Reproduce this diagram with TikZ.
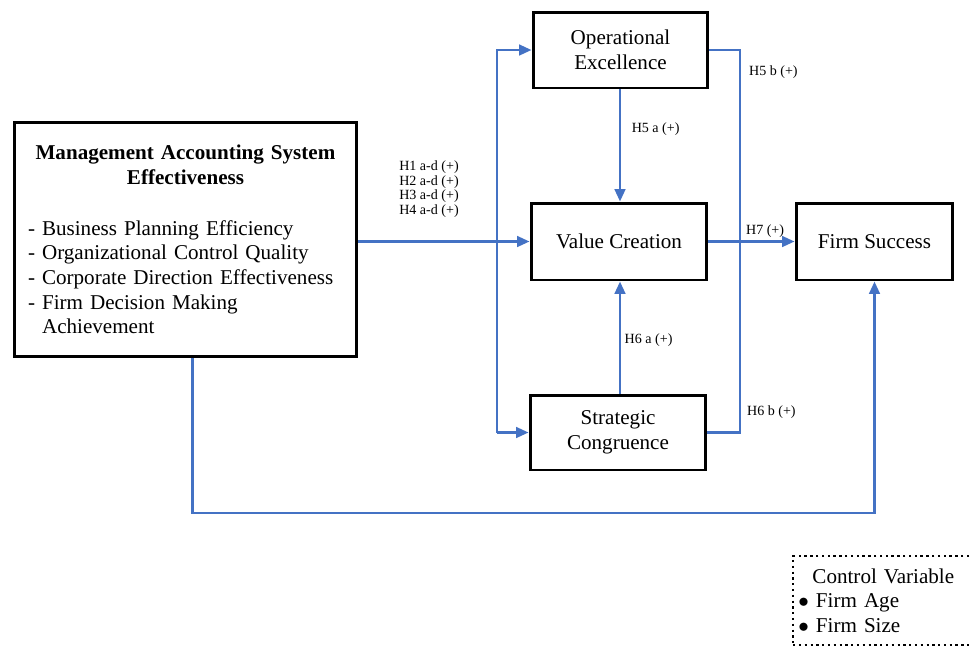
\documentclass[tikz,border=0pt]{standalone}
\usepackage{fontspec}
\setmainfont{Liberation Serif}
\usetikzlibrary{arrows.meta,calc}
\definecolor{linkblue}{RGB}{68,114,196}
\begin{document}
\begin{tikzpicture}[x=0.02cm, y=-0.02cm,
    box/.style={draw, line width=1.7pt, align=center, inner sep=2pt,
      font=\fontsize{12}{14}\selectfont},
    link/.style={draw=linkblue, line width=1.4pt},
    arrowlink/.style={link, -{Triangle[length=7pt,width=6pt,linkblue]}},
    hyp/.style={font=\fontsize{8}{8.4}\selectfont, text=black, inner sep=1pt, align=left}]
    \clip (0,0) rectangle (971,647);
    % boxes
    \node[box, minimum width=6.86cm, minimum height=4.7cm, text width=6.3cm, align=left] (mas) at (185.5,239.5)
      {{\centering\bfseries Management Accounting System\\ Effectiveness\par}\vspace{15pt}
       - Business Planning Efficiency\\
       - Organizational Control Quality\\
       - Corporate Direction Effectiveness\\
       - Firm Decision Making\\
       \phantom{- }Achievement};
    \node[box, minimum width=3.5cm, minimum height=1.52cm] (oe) at (620.5,50) {Operational\\ Excellence};
    \node[box, minimum width=3.52cm, minimum height=1.54cm] (vc) at (619,241.5) {Value Creation};
    \node[box, minimum width=3.52cm, minimum height=1.5cm] (sc) at (618,432.5) {Strategic\\ Congruence};
    \node[box, minimum width=3.14cm, minimum height=1.54cm] (fs) at (874.5,241.5) {Firm Success};
    \node[draw, dotted, line width=1.3pt, anchor=north west, text width=4.2cm, inner xsep=3pt, inner ysep=7pt,
      align=left, font=\fontsize{12}{14}\selectfont] (ctrl) at (792,555)
      {\hspace*{8pt}Control Variable\\ $\bullet$ Firm Age\\ $\bullet$ Firm Size};
    % connectors
    \coordinate (split) at (497,241);
    \coordinate (join) at (740,241);
    \coordinate (low) at (0,513);
    \draw[arrowlink] (mas.east |- vc.west) -- (vc.west);
    \draw[arrowlink] (sc.west -| split) -- (oe.west -| split) -- (oe.west);
    \draw[arrowlink] (sc.west -| split) -- (sc.west);
    \draw[arrowlink] (oe.south -| 620,0) -- (vc.north -| 620,0)
      node[hyp, pos=0.35, right=5pt] (h5a) {H5 a (+)};
    \draw[arrowlink] (sc.north -| 620,0) -- (vc.south -| 620,0)
      node[hyp, pos=0.48, right=1pt] (h6a) {H6 a (+)};
    \draw[link] (oe.east) -| (join) |- (sc.east);
    \draw[arrowlink] (vc.east) -- (fs.west);
    \draw[arrowlink] ([xshift=4pt]mas.south) |- (fs.south |- low) -- (fs.south);
    % labels
    \node[hyp] (h14) at (429,189) {H1 a-d (+)\\ H2 a-d (+)\\ H3 a-d (+)\\ H4 a-d (+)};
    \node[hyp, anchor=west] (h5b) at (747,72) {H5 b (+)};
    \node[hyp, anchor=west] (h7) at (744,231) {H7 (+)};
    \node[hyp, anchor=west] (h6b) at (745,412) {H6 b (+)};
\end{tikzpicture}
\end{document}
